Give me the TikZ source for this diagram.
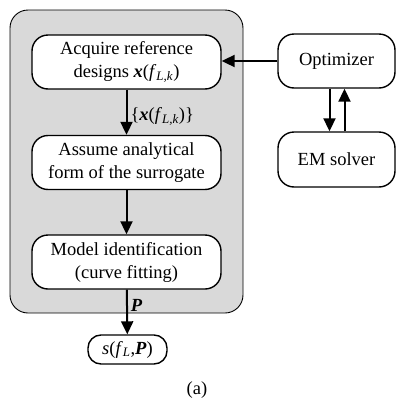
\documentclass[tikz,border=0pt]{standalone}
\usepackage{fontspec}
\setmainfont{Liberation Serif}
\usetikzlibrary{arrows.meta}
\definecolor{grpbg}{RGB}{217,217,217}
\begin{document}
\begin{tikzpicture}[x=1pt,y=1pt,
  txt/.style={font=\fontsize{18.5}{23}\selectfont},
  blk/.style={txt, draw, line width=1.4pt, fill=white, rounded corners=16pt,
    minimum width=189pt, minimum height=54pt, align=center, inner sep=0pt},
  grp/.style={draw, line width=0.9pt, fill=grpbg, rounded corners=18pt,
    minimum width=233pt, minimum height=303pt, inner sep=0pt},
  arr/.style={line width=2pt, -{Triangle[length=13pt,width=12pt]}},
  lbl/.style={txt, inner sep=3pt}
]
\useasboundingbox (0,0) rectangle (396,-402);
\node[grp] (grp) at (126.5,-161.5) {};
\node[blk] (b1) at (126.5,-62) {Acquire reference\\designs \textbf{\textit{x}}(\textit{f}\textsubscript{\textit{L,k}})};
\node[blk] (b2) at (126.5,-162.5) {Assume analytical\\form of the surrogate};
\node[blk] (b3) at (126.5,-262) {Model identification\\(curve fitting)};
\node[blk, minimum width=79pt, minimum height=29pt, rounded corners=13pt] (s) at (127.5,-349.5) {\textit{s}(\textit{f}\textsubscript{\textit{L}},\textbf{\textit{P}})};
\node[blk, minimum width=117pt] (opt) at (336.5,-61) {Optimizer};
\node[blk, minimum width=117pt, minimum height=55pt] (em) at (336.5,-159.5) {EM solver};
\node[txt] (cap) at (197,-390) {(a)};

\draw[arr] (opt.west) -- (b1.east |- opt.west);
\draw[arr] (b1) -- node[lbl, right, pos=0.6] {\{\textbf{\textit{x}}(\textit{f}\textsubscript{\textit{L,k}})\}} (b2);
\draw[arr] (b2) -- (b3);
\draw[arr] (b3) -- node[lbl, right, pos=0.35] {\textbf{\textit{P}}} (s);
\draw[arr] ([xshift=-7pt]opt.south) -- ([xshift=-7pt]em.north);
\draw[arr] ([xshift=8pt]em.north) -- ([xshift=8pt]opt.south);
\end{tikzpicture}
\end{document}
